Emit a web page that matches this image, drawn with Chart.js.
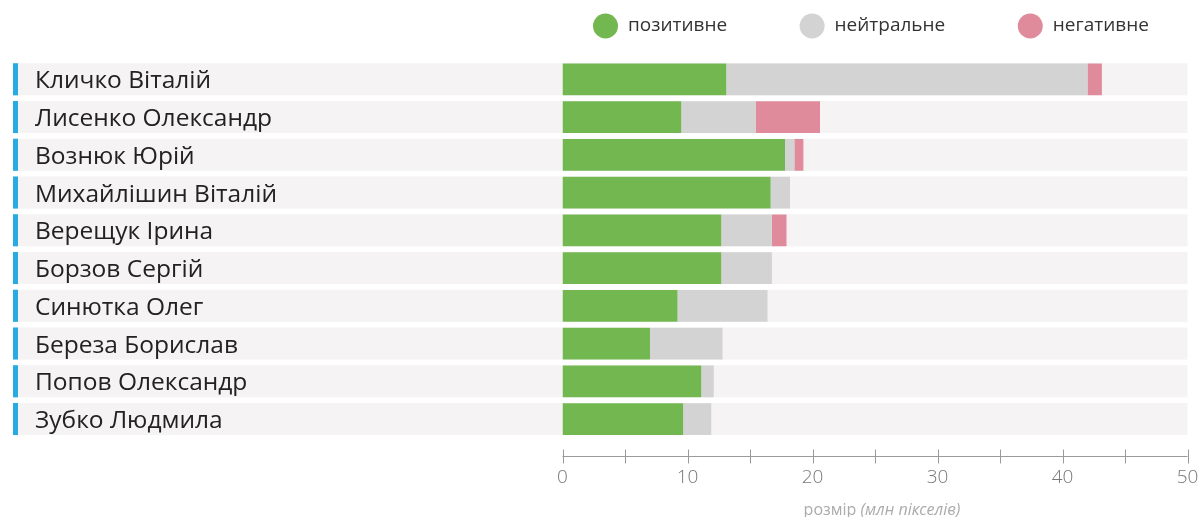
<!DOCTYPE html>
<html>
<head>
<meta charset="utf-8">
<script src="https://cdn.jsdelivr.net/npm/chart.js@4"></script>
<style>
  html, body { margin: 0; padding: 0; background: #fff; }
  #wrap { width: 1203px; height: 517px; position: relative; }
</style>
</head>
<body>
<div id="wrap"><canvas id="myChart"></canvas></div>
<script>
var names = ['Кличко Віталій', 'Лисенко Олександр', 'Вознюк Юрій', 'Михайлішин Віталій', 'Верещук Ірина',
             'Борзов Сергій', 'Синютка Олег', 'Береза Борислав', 'Попов Олександр', 'Зубко Людмила'];
var positive = [13.1, 9.5, 17.8, 16.65, 12.7, 12.7, 9.2, 7.0, 11.1, 9.65];
var neutral  = [28.9, 5.95, 0.75, 1.55, 4.05, 4.05, 7.2, 5.8, 1.0, 2.25];
var negative = [1.15, 5.15, 0.72, 0, 1.17, 0, 0, 0, 0, 0];
var seriesNames = ['позитивне', 'нейтральне', 'негативне'];
var seriesColors = ['#72b74f', '#d3d3d3', '#e08b9b'];
var xTicks = [0, 10, 20, 30, 40, 50];

var FONT = '"Open Sans", "Noto Sans", sans-serif';

// light row bands + blue marker behind each category
var bandsPlugin = {
  id: 'bands',
  beforeDraw: function(chart) {
    var ctx = chart.ctx, y = chart.scales.y, area = chart.chartArea;
    var step = y.getPixelForValue(1) - y.getPixelForValue(0);
    var h = step * 0.85;
    ctx.save();
    for (var i = 0; i < names.length; i++) {
      var cy = y.getPixelForValue(i);
      ctx.fillStyle = '#f5f3f4';
      ctx.fillRect(13, cy - h / 2, area.right - 13, h);
      ctx.fillStyle = '#29abe2';
      ctx.fillRect(13, cy - h / 2, 5, h);
    }
    ctx.restore();
  }
};

// axis line, tick marks, axis title and legend
var decorPlugin = {
  id: 'decor',
  afterDraw: function(chart) {
    var ctx = chart.ctx, x = chart.scales.x, area = chart.chartArea;
    var ay = Math.round(area.bottom + 18) + 0.5;
    ctx.save();
    ctx.strokeStyle = '#9a9a9a';
    ctx.lineWidth = 1;
    ctx.beginPath();
    ctx.moveTo(x.left, ay);
    ctx.lineTo(x.right, ay);
    x.ticks.forEach(function(t) {
      var px = Math.round(x.getPixelForValue(t.value)) + 0.5;
      ctx.moveTo(px, ay - 7);
      ctx.lineTo(px, ay + 7);
    });
    ctx.stroke();

    // title: "розмір (млн пікселів)"
    var t1 = 'розмір ', t2 = '(млн пікселів)';
    ctx.fillStyle = '#ababab';
    ctx.textBaseline = 'middle';
    ctx.font = '16px ' + FONT;
    var w1 = ctx.measureText(t1).width;
    ctx.font = 'italic 16px ' + FONT;
    var w2 = ctx.measureText(t2).width;
    var tx = (x.left + x.right) / 2 + 7 - (w1 + w2) / 2;
    ctx.font = '16px ' + FONT;
    ctx.textAlign = 'left';
    ctx.fillText(t1, tx, 510);
    ctx.font = 'italic 16px ' + FONT;
    ctx.fillText(t2, tx + w1, 510);

    // legend
    var lx = 605.5, ly = 26;
    ctx.font = '19px ' + FONT;
    chart.data.datasets.forEach(function(ds) {
      ctx.fillStyle = ds.backgroundColor;
      ctx.beginPath();
      ctx.arc(lx, ly, 12.5, 0, Math.PI * 2);
      ctx.fill();
      ctx.fillStyle = '#333';
      ctx.fillText(ds.label, lx + 22.5, ly);
      lx += 22.5 + ctx.measureText(ds.label).width + 85;
    });
    ctx.restore();
  }
};

var ctx = document.getElementById('myChart').getContext('2d');
var myChart = new Chart(ctx, {
  type: 'bar',
  data: {
    labels: names,
    datasets: [
      { label: seriesNames[0], data: positive, backgroundColor: seriesColors[0] },
      { label: seriesNames[1], data: neutral, backgroundColor: seriesColors[1] },
      { label: seriesNames[2], data: negative, backgroundColor: seriesColors[2] }
    ]
  },
  options: {
    indexAxis: 'y',
    responsive: true,
    maintainAspectRatio: false,
    animation: false,
    layout: { padding: { left: 35, right: 15.5, top: 60.4, bottom: 0 } },
    datasets: { bar: { barPercentage: 0.84, categoryPercentage: 1, borderWidth: 0 } },
    plugins: { legend: { display: false }, tooltip: { enabled: false } },
    scales: {
      x: {
        stacked: true,
        min: 0,
        max: 50,
        grid: { display: false, drawTicks: false },
        border: { display: false },
        afterFit: function(scale) {
          scale.height = 79.1;
          scale.paddingLeft = 0;
          scale.paddingRight = 0;
        },
        afterBuildTicks: function(scale) {
          var t = [];
          for (var v = 0; v <= 50; v += 5) t.push({ value: v });
          scale.ticks = t;
        },
        ticks: {
          autoSkip: false,
          maxRotation: 0,
          padding: 28,
          color: '#777',
          font: { family: FONT, size: 19, weight: 300 },
          callback: function(v) { return xTicks.indexOf(v) >= 0 ? v : ''; }
        }
      },
      y: {
        stacked: true,
        grid: { display: false },
        border: { display: false },
        afterFit: function(scale) { scale.width = 527.5; },
        ticks: {
          crossAlign: 'far',
          labelOffset: 2,
          color: '#222',
          font: { family: FONT, size: 24.5 }
        }
      }
    }
  },
  plugins: [bandsPlugin, decorPlugin]
});
</script>
</body>
</html>
